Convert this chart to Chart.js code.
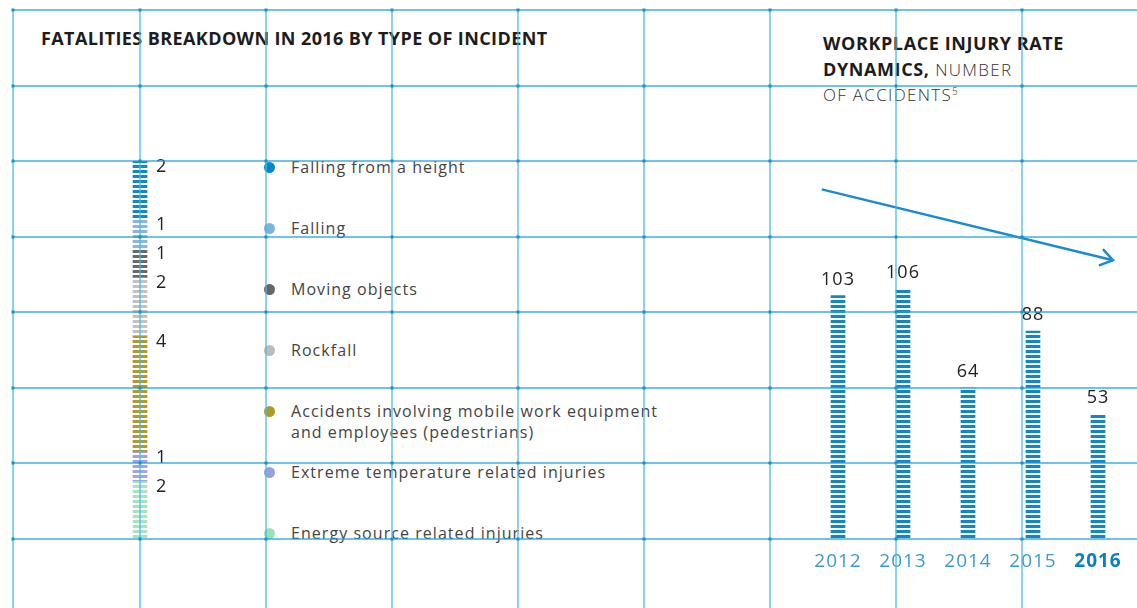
<!DOCTYPE html>
<html>
<head>
<meta charset="utf-8">
<script src="https://cdn.jsdelivr.net/npm/chart.js@4"></script>
<style>
body{margin:0;width:1137px;height:608px;overflow:hidden;background:#fff;font-family:"Open Sans",sans-serif;position:relative}
canvas{position:absolute}
#left{left:0;top:0}
#right{left:780px;top:0}
#grid{left:0;top:0;z-index:5;pointer-events:none}
.t{position:absolute;color:#1c1c1c;font-size:18px;line-height:25.5px;letter-spacing:0.4px;white-space:nowrap}
.t b{font-weight:700}
.t span{font-weight:300;color:#333;font-size:17px;letter-spacing:1.3px}
.t sup{font-size:10px;vertical-align:6px;line-height:0;letter-spacing:0}
.leg{position:absolute;left:264px;font-size:16px;line-height:21px;color:#444;letter-spacing:1.05px;white-space:nowrap}
.leg i{position:absolute;left:0;top:5px;width:11px;height:11px;border-radius:50%}
.leg div{margin-left:27px}
</style>
</head>
<body>
<div class="t" style="left:41px;top:26px"><b>FATALITIES BREAKDOWN IN 2016 BY TYPE OF INCIDENT</b></div>
<div class="t" style="left:823px;top:31px"><b style="letter-spacing:0.6px">WORKPLACE INJURY RATE<br>DYNAMICS,</b><span> NUMBER<br>OF ACCIDENTS<sup>5</sup></span></div>
<div id="legend"></div>
<canvas id="left" width="260" height="608"></canvas>
<canvas id="right" width="357" height="608"></canvas>
<canvas id="grid" width="1137" height="608"></canvas>
<script>
// fatalities 2016, top to bottom
const incidentTypes = [
  'Falling from a height',
  'Falling',
  'Moving objects',
  'Rockfall',
  'Accidents involving mobile work equipment and employees (pedestrians)',
  'Extreme temperature related injuries',
  'Energy source related injuries'
]
const fatalities = [2, 1, 1, 2, 4, 1, 2]
const incidentColors = ['#1287c9', '#86b8e0', '#6a6a6a', '#c2c2c2', '#b39a2c', '#a0a4e0', '#a6e6bf']
const dotColors = ['#0a87c9', '#7db4de', '#666666', '#bcbcbc', '#ae9a27', '#9aa0de', '#9be3b5']

// workplace injuries
const years = ['2012', '2013', '2014', '2015', '2016']
const accidents = [103, 106, 64, 88, 53]
// trend arrow, in (year index, accidents)
const trendLine = [{x: -0.25, y: 148}, {x: 4.23, y: 118}]

function stripes(color){
  const c = document.createElement('canvas')
  c.width = 4; c.height = 5
  const g = c.getContext('2d')
  g.fillStyle = color
  g.fillRect(0, 0, 4, 3)
  return g.createPattern(c, 'repeat')
}

// legend
const legend = document.getElementById('legend')
incidentTypes.forEach(function(name, i){
  const row = document.createElement('div')
  row.className = 'leg'
  row.style.top = (157 + i * 61) + 'px'
  row.innerHTML = '<i style="background:' + dotColors[i] + '"></i><div>' +
    (i == 4 ? 'Accidents involving mobile work equipment<br>and employees (pedestrians)' : name) + '</div>'
  legend.appendChild(row)
})

const segmentLabels = {
  id: 'segmentLabels',
  afterDatasetsDraw(chart){
    const ctx = chart.ctx
    ctx.save()
    ctx.fillStyle = '#222'
    ctx.font = '18px "Open Sans"'
    ctx.textBaseline = 'middle'
    chart.data.datasets.forEach(function(ds, i){
      const el = chart.getDatasetMeta(i).data[0]
      const top = Math.min(el.y, el.base)
      ctx.fillText(ds.data[0], el.x + 16, top + 6)
    })
    ctx.restore()
  }
}

new Chart(document.getElementById('left'), {
  type: 'bar',
  data: {
    labels: ['2016'],
    datasets: fatalities.map(function(v, i){
      return {label: incidentTypes[i], data: [v], backgroundColor: stripes(incidentColors[i]), barThickness: 14}
    })
  },
  options: {
    responsive: false,
    animation: false,
    layout: {padding: {left: 100, right: 80, top: 161, bottom: 69}},
    plugins: {legend: {display: false}, tooltip: {enabled: false}},
    scales: {
      x: {display: false, stacked: true},
      y: {display: false, stacked: true, reverse: true, min: 0, max: 13}
    }
  },
  plugins: [segmentLabels]
})

const barLabels = {
  id: 'barLabels',
  afterDatasetsDraw(chart){
    const ctx = chart.ctx
    const bars = chart.getDatasetMeta(0).data
    ctx.save()
    ctx.textAlign = 'center'
    ctx.textBaseline = 'middle'
    ctx.letterSpacing = '1px'
    bars.forEach(function(el, i){
      ctx.fillStyle = '#222'
      ctx.font = '18px "Open Sans"'
      ctx.fillText(accidents[i], el.x, el.y - 16)
      const last = i == years.length - 1
      ctx.fillStyle = last ? '#0a80c2' : '#3a9ad3'
      ctx.font = (last ? 'bold ' : '') + '19px "Open Sans"'
      ctx.fillText(years[i], el.x, 562)
    })
    // arrow head
    const pts = chart.getDatasetMeta(1).data
    const a = pts[pts.length - 2], b = pts[pts.length - 1]
    const ang = Math.atan2(b.y - a.y, b.x - a.x)
    ctx.strokeStyle = '#1a8bd0'
    ctx.lineWidth = 2.5
    ctx.lineCap = 'round'
    ctx.beginPath()
    ctx.moveTo(b.x - 14 * Math.cos(ang - 0.6), b.y - 14 * Math.sin(ang - 0.6))
    ctx.lineTo(b.x, b.y)
    ctx.lineTo(b.x - 14 * Math.cos(ang + 0.6), b.y - 14 * Math.sin(ang + 0.6))
    ctx.stroke()
    ctx.restore()
  }
}

new Chart(document.getElementById('right'), {
  type: 'bar',
  data: {
    labels: years,
    datasets: [
      {data: accidents, backgroundColor: stripes('#1386c8'), barThickness: 14, grouped: false},
      {type: 'line', data: trendLine, xAxisID: 'xa', borderColor: '#1a8bd0', borderWidth: 2.5, pointRadius: 0}
    ]
  },
  options: {
    responsive: false,
    animation: false,
    layout: {padding: {left: 25.5, right: 6.5, top: 161, bottom: 69}},
    plugins: {legend: {display: false}, tooltip: {enabled: false}},
    scales: {
      x: {display: false},
      xa: {type: 'linear', display: false, offset: false, min: -0.5, max: 4.5},
      y: {display: false, min: 0, max: 160}
    }
  },
  plugins: [barLabels]
})

// background grid, drawn over the charts
const g = document.getElementById('grid').getContext('2d')
const gx = [13, 140, 266, 392, 518, 644, 770, 896, 1022]
const gy = [10, 86, 161, 237, 312, 388, 463, 539]
g.lineWidth = 1.5
g.strokeStyle = 'rgba(70,185,228,0.85)'
gx.forEach(function(x){ g.beginPath(); g.moveTo(x, gy[0]); g.lineTo(x, 608); g.stroke() })
g.strokeStyle = 'rgba(30,160,215,0.85)'
gy.forEach(function(y){ g.beginPath(); g.moveTo(gx[0], y); g.lineTo(1137, y); g.stroke() })
g.fillStyle = '#1a8fc8'
gx.forEach(function(x){ gy.forEach(function(y){ g.fillRect(x - 1.5, y - 1.5, 3, 3) }) })
</script>
</body>
</html>
